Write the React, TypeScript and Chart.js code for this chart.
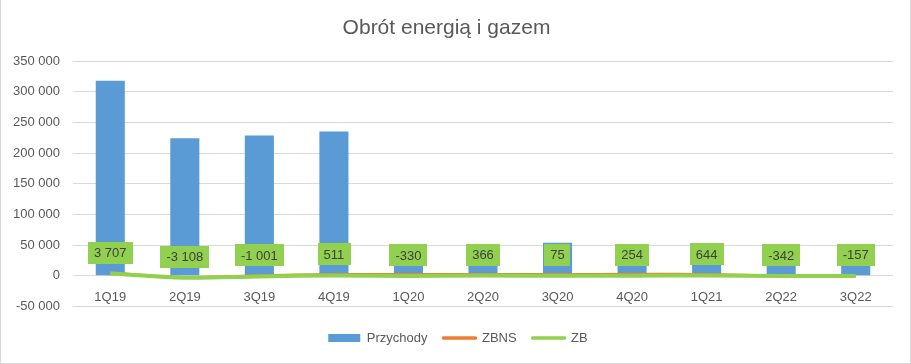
import React, { useEffect, useRef } from "react";
import { Chart, registerables } from "chart.js";

Chart.register(...registerables);

const categories = ["1Q19", "2Q19", "3Q19", "4Q19", "1Q20", "2Q20", "3Q20", "4Q20", "1Q21", "2Q22", "3Q22"];
const przychody = [318000, 224000, 228500, 235000, 22000, 25000, 54000, 20000, 28000, 22000, 20000];
const zbns = [4500, -2800, 200, 2200, 2000, 2300, 2200, 2400, 2300, -400, -200];
const zb = [3707, -3108, -1001, 511, -330, 366, 75, 254, 644, -342, -157];

const FONT = "'Liberation Sans', Arial, sans-serif";
const TEXT = "#595959";

const fmt = (v: number) => {
  const s = Math.abs(Math.round(v)).toString().replace(/\B(?=(\d{3})+(?!\d))/g, " ");
  return (v < 0 ? "-" : "") + s;
};

const labelPlugin = {
  id: "zbLabels",
  afterLayout(chart: any) {
    if (chart.legend) {
      chart.legend.left += 11.5;
      chart.legend.right += 11.5;
    }
  },
  afterDatasetsDraw(chart: any) {
    const ctx = chart.ctx;
    const meta = chart.getDatasetMeta(2);
    ctx.save();
    ctx.font = `13px ${FONT}`;
    ctx.textAlign = "center";
    ctx.textBaseline = "middle";
    meta.data.forEach((pt: any, i: number) => {
      const txt = fmt(zb[i]);
      const w = ctx.measureText(txt).width + 12;
      const h = 22;
      const cx = pt.x;
      const cy = pt.y - 21;
      ctx.fillStyle = "#92D050";
      ctx.fillRect(Math.round(cx - w / 2), Math.round(cy - h / 2), Math.round(w), h);
      ctx.fillStyle = "#404040";
      ctx.fillText(txt, cx, cy + 1);
    });
    ctx.restore();
  },
};

export default function App() {
  const ref = useRef<HTMLCanvasElement>(null);
  useEffect(() => {
    if (!ref.current) return;
    const chart = new Chart(ref.current, {
      type: "bar",
      data: {
        labels: categories,
        datasets: [
          {
            type: "bar",
            label: "Przychody",
            data: przychody,
            backgroundColor: "#5B9BD5",
            borderWidth: 0,
            barPercentage: 0.39,
            categoryPercentage: 1,
            order: 3,
          },
          {
            type: "line",
            label: "ZBNS",
            data: zbns,
            borderColor: "#ED7D31",
            backgroundColor: "#ED7D31",
            borderWidth: 3,
            pointRadius: 0,
            tension: 0.3,
            order: 2,
          },
          {
            type: "line",
            label: "ZB",
            data: zb,
            borderColor: "#92D050",
            backgroundColor: "#92D050",
            borderWidth: 4,
            pointRadius: 0,
            tension: 0.3,
            order: 1,
          },
        ] as any,
      },
      options: {
        animation: false,
        responsive: false,
        layout: { padding: { left: 0, right: 18, top: 0, bottom: 9.5 } },
        plugins: {
          tooltip: { enabled: false },
          title: {
            display: true,
            text: "Obrót energią i gazem",
            color: TEXT,
            font: { family: FONT, size: 21, weight: "normal" },
            padding: { top: 16, bottom: 19.8 },
          },
          legend: {
            position: "bottom",
            labels: {
              color: TEXT,
              font: { family: FONT, size: 13 },
              usePointStyle: true,
              pointStyleWidth: 32,
              boxHeight: 8,
              padding: 16,
              sort: (a: any, b: any) => a.datasetIndex - b.datasetIndex,
              generateLabels: (ch: any) =>
                ch.data.datasets.map((ds: any, i: number) => ({
                  text: ds.label,
                  datasetIndex: i,
                  fillStyle: ds.backgroundColor,
                  strokeStyle: ds.borderColor,
                  lineWidth: i === 0 ? 0 : 3.5,
                  lineCap: "round",
                  pointStyle: i === 0 ? "rect" : "line",
                  fontColor: TEXT,
                  hidden: false,
                })),
            },
          },
        },
        scales: {
          x: {
            position: { y: 0 } as any,
            grid: { display: false, drawTicks: false },
            border: { display: false },
            ticks: { color: TEXT, font: { family: FONT, size: 13 }, padding: 14, maxRotation: 0 },
          },
          x2: {
            type: "category",
            labels: categories,
            position: "bottom",
            display: true,
            grid: { display: false, drawTicks: false },
            border: { display: false },
            ticks: { display: false },
            afterFit: (s: any) => {
              s.height = 9;
            },
          } as any,
          y: {
            min: -50000,
            max: 350000,
            grid: { color: "#d9d9d9", drawTicks: false },
            border: { display: false },
            ticks: {
              stepSize: 50000,
              color: TEXT,
              font: { family: FONT, size: 13 },
              padding: 13,
              callback: (v: any) => fmt(Number(v)),
            },
            afterFit: (s: any) => {
              s.width = 73;
            },
          },
        },
      },
      plugins: [labelPlugin],
    });
    return () => chart.destroy();
  }, []);
  return (
    <div
      style={{
        position: "fixed",
        left: 0,
        top: 0,
        width: 911,
        height: 364,
        background: "#fff",
      }}
    >
      <canvas ref={ref} width={911} height={364} style={{ display: "block" }} />
      <div
        style={{
          position: "absolute",
          left: 0,
          top: 0,
          width: 911,
          height: 364,
          boxSizing: "border-box",
          borderLeft: "1px solid #d9d9d9",
          borderRight: "1px solid #d9d9d9",
          borderBottom: "1px solid #d9d9d9",
          pointerEvents: "none",
        }}
      />
    </div>
  );
}
